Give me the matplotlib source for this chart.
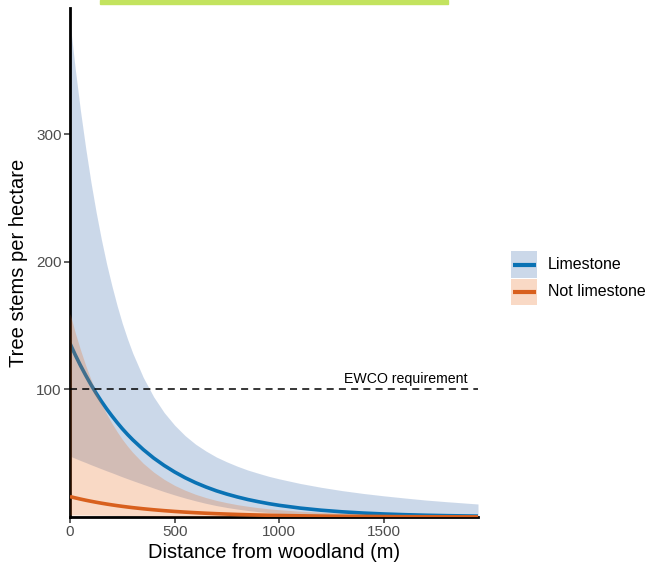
import matplotlib
matplotlib.use("Agg")
import matplotlib.pyplot as plt
from matplotlib.patches import Rectangle
from matplotlib.lines import Line2D

plt.rcParams['font.family'] = ['Liberation Sans', 'DejaVu Sans']

# ---- data ----
distance = [0, 25, 50, 75, 100, 125, 150, 175, 200, 225, 250, 275, 300, 350, 400,
            450, 500, 550, 600, 650, 700, 750, 800, 850, 900, 950, 1000, 1100,
            1200, 1300, 1400, 1500, 1600, 1700, 1800, 1950]

lime_mean = [136, 127.1, 118.8, 111.1, 103.8, 97.05, 90.7, 84.8, 79.3, 74.1, 69.2,
             64.7, 60.5, 52.9, 46.2, 40.4, 35.3, 30.8, 26.9, 23.5, 20.5, 17.95,
             15.7, 13.7, 12.0, 10.46, 9.14, 6.98, 5.33, 4.07, 3.10, 2.37, 1.81,
             1.38, 1.05, 0.70]
lime_upper = [388.0, 351.4, 318.5, 289.2, 262.6, 238.9, 217.6, 198.4, 181.4, 165.8,
              151.8, 139.5, 128.4, 109.5, 94.2, 81.9, 72.0, 63.8, 57.1, 51.7, 47.0,
              43.2, 39.8, 36.8, 34.3, 31.9, 29.9, 26.3, 23.3, 20.7, 18.5, 16.6,
              14.9, 13.3, 12.0, 10.2]
lime_lower = [47.7, 46.0, 44.3, 42.7, 41.0, 39.4, 37.8, 36.2, 34.7, 33.1, 31.5,
              30.0, 28.5, 25.6, 22.7, 19.9, 17.3, 14.9, 12.7, 10.7, 8.95, 7.47,
              6.19, 5.10, 4.20, 3.43, 2.80, 1.85, 1.22, 0.80, 0.52, 0.34, 0.22,
              0.14, 0.09, 0.05]

notlime_mean = [16, 14.99, 14.05, 13.16, 12.34, 11.56, 10.83, 10.15, 9.51, 8.91,
                8.35, 7.83, 7.33, 6.44, 5.66, 4.97, 4.36, 3.83, 3.36, 2.95, 2.59,
                2.28, 2.00, 1.76, 1.54, 1.35, 1.19, 0.92, 0.71, 0.54, 0.42, 0.32,
                0.25, 0.19, 0.15, 0.10]
notlime_upper = [159.5, 144.5, 131.1, 118.8, 107.9, 97.9, 88.9, 80.8, 73.5, 66.9,
                 60.9, 55.5, 50.6, 42.1, 35.2, 29.5, 24.8, 21.0, 17.8, 15.2, 13.0,
                 11.2, 9.66, 8.41, 7.32, 6.42, 5.70, 4.53, 3.66, 2.98, 2.51, 2.11,
                 1.84, 1.58, 1.41, 1.16]
notlime_lower = [1.60, 1.55, 1.51, 1.46, 1.41, 1.36, 1.32, 1.27, 1.23, 1.19, 1.15,
                 1.10, 1.06, 0.98, 0.91, 0.84, 0.77, 0.70, 0.63, 0.57, 0.52, 0.46,
                 0.41, 0.37, 0.32, 0.28, 0.25, 0.19, 0.14, 0.10, 0.07, 0.05, 0.03,
                 0.02, 0.02, 0.01]

series_names = ["Limestone", "Not limestone"]
ewco_value = 100
ewco_label = "EWCO requirement"
x_ticks = [0, 500, 1000, 1500]
y_ticks = [100, 200, 300]

# ---- style ----
blue_line = "#0a72b4"
blue_fill = "#3366aa"
orange_line = "#d8601e"
orange_fill = "#e8691a"
fill_alpha = 0.25

W, H = 648, 568
fig = plt.figure(figsize=(W / 100, H / 100), dpi=100)
ax = fig.add_axes([70 / W, 1 - 517 / H, (478 - 70) / W, (517 - 8) / H])

ax.fill_between(distance, lime_lower, lime_upper, color=blue_fill, alpha=fill_alpha,
                linewidth=0, zorder=1)
ax.plot(distance, lime_mean, color=blue_line, lw=2.6, zorder=2, solid_capstyle='butt')
ax.fill_between(distance, notlime_lower, notlime_upper, color=orange_fill,
                alpha=fill_alpha, linewidth=0, zorder=3)
ax.plot(distance, notlime_mean, color=orange_line, lw=2.6, zorder=4, solid_capstyle='butt')

ax.axhline(ewco_value, color="black", lw=1.1, linestyle=(0, (4.6, 3.4)), zorder=5)
ax.text(1900, ewco_value + 2.5, ewco_label, ha='right', va='bottom', fontsize=10.2,
        color='black', zorder=6)

ax.set_xlim(0, 1950)
ax.set_ylim(0, 399)
ax.set_xticks(x_ticks)
ax.set_yticks(y_ticks)
ax.tick_params(axis='both', colors='#333333', labelcolor='#4d4d4d', labelsize=11,
               length=4, width=1.1, pad=2)
for s in ['top', 'right']:
    ax.spines[s].set_visible(False)
for s in ['left', 'bottom']:
    ax.spines[s].set_linewidth(2.0)
    ax.spines[s].set_color('black')
ax.set_xlabel("Distance from woodland (m)", fontsize=14.5, labelpad=3)
ax.set_ylabel("Tree stems per hectare", fontsize=14.5, labelpad=6)

# legend drawn as figure artists (pixel positions converted to figure fractions)
def fx(px):
    return px / W

def fy(py):
    return 1 - py / H

key_fills = [blue_fill, orange_fill]
key_lines = [blue_line, orange_line]
key_tops = [251.5, 279.0]
key_h = 26.0
for name, kf, kl, top in zip(series_names, key_fills, key_lines, key_tops):
    fig.patches.append(Rectangle((fx(511), fy(top + key_h)), 26 / W, key_h / H,
                                 transform=fig.transFigure, facecolor=kf,
                                 alpha=fill_alpha, edgecolor='none'))
    cy = top + key_h / 2
    fig.lines.append(Line2D([fx(512.5), fx(535.5)], [fy(cy), fy(cy)],
                            transform=fig.transFigure, color=kl, lw=3.0,
                            solid_capstyle='butt'))
    fig.text(fx(548), fy(cy), name, ha='left', va='center', fontsize=11.5,
             color='black')

# green bar at top
fig.patches.append(Rectangle((100 / W, 1 - 3.5 / H), 348 / W, 3.5 / H,
                             transform=fig.transFigure, color="#c3e35e", zorder=10))

fig.savefig("out.png", dpi=100)
